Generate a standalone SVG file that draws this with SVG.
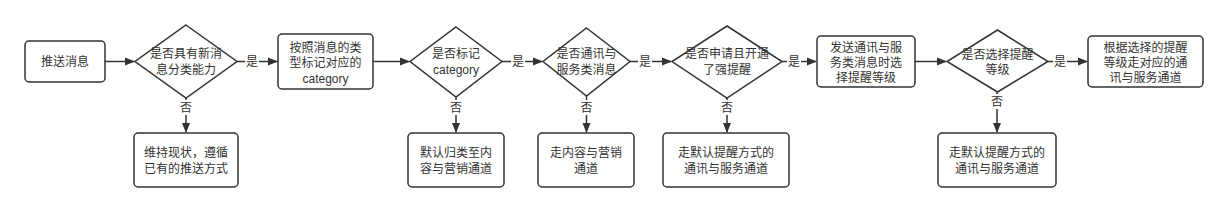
<svg xmlns="http://www.w3.org/2000/svg" width="1227" height="212" viewBox="0 0 1227 212">
<style>
.n{fill:#fff;stroke:#333;stroke-width:1.5}
.t{font-family:"Liberation Sans","Noto Sans CJK SC",sans-serif;font-size:12px;fill:#333;text-anchor:middle;dominant-baseline:central}
.c{stroke:#333;stroke-width:1.5;fill:none}
.lb{fill:#fff}
</style>
<defs>
<marker id="a" viewBox="0 0 10 10" refX="9" refY="5" markerWidth="10" markerHeight="10" markerUnits="userSpaceOnUse" orient="auto">
<path d="M0,1 L10,5 L0,9 Z" fill="#333"/>
</marker>
</defs>
<rect width="1227" height="212" fill="#fff"/>
<g id="connectors">
<path class="c" d="M105,61.5H134" marker-end="url(#a)"/>
<path class="c" d="M237,61.5H277" marker-end="url(#a)"/>
<path class="c" d="M373,61.5H409" marker-end="url(#a)"/>
<path class="c" d="M502,61.5H542" marker-end="url(#a)"/>
<path class="c" d="M630,61.5H671" marker-end="url(#a)"/>
<path class="c" d="M782,61.5H816" marker-end="url(#a)"/>
<path class="c" d="M915,61.5H946" marker-end="url(#a)"/>
<path class="c" d="M1048,61.5H1087" marker-end="url(#a)"/>
<path class="c" d="M186,98V132" marker-end="url(#a)"/>
<path class="c" d="M456,97V132" marker-end="url(#a)"/>
<path class="c" d="M586.5,96V132" marker-end="url(#a)"/>
<path class="c" d="M727,98V132" marker-end="url(#a)"/>
<path class="c" d="M997,92V132" marker-end="url(#a)"/>
<rect class="lb" x="245" y="54" width="14" height="15"/>
<text class="t" x="252" y="61.5">是</text>
<rect class="lb" x="511" y="54" width="14" height="15"/>
<text class="t" x="518" y="61.5">是</text>
<rect class="lb" x="638" y="54" width="14" height="15"/>
<text class="t" x="645" y="61.5">是</text>
<rect class="lb" x="787" y="54" width="14" height="15"/>
<text class="t" x="794" y="61.5">是</text>
<rect class="lb" x="1053" y="54" width="14" height="15"/>
<text class="t" x="1060" y="61.5">是</text>
<rect class="lb" x="179" y="100" width="14" height="15"/>
<text class="t" x="186" y="107.5">否</text>
<rect class="lb" x="449" y="100" width="14" height="15"/>
<text class="t" x="456" y="107.5">否</text>
<rect class="lb" x="579.5" y="100" width="14" height="15"/>
<text class="t" x="586.5" y="107.5">否</text>
<rect class="lb" x="720" y="100" width="14" height="15"/>
<text class="t" x="727" y="107.5">否</text>
<rect class="lb" x="990" y="94" width="14" height="15"/>
<text class="t" x="997" y="101.5">否</text>
</g>
<g id="n1"><rect class="n" x="25" y="41" width="80" height="41" rx="4"/><text class="t" x="65" y="61.5">推送消息</text></g>
<g id="d1"><path class="n" d="M186,25L237,61.5L186,98L135,61.5Z"/><text class="t" x="186" y="54">是否具有新消</text><text class="t" x="186" y="70">息分类能力</text></g>
<g id="n2"><rect class="n" x="278" y="34" width="95" height="55" rx="4"/><text class="t" x="325.5" y="48">按照消息的类</text><text class="t" x="325.5" y="63">型标记对应的</text><text class="t" x="325.5" y="79">category</text></g>
<g id="d2"><path class="n" d="M456,27L502,61.5L456,97L410,61.5Z"/><text class="t" x="456" y="54">是否标记</text><text class="t" x="456" y="70">category</text></g>
<g id="d3"><path class="n" d="M586.5,28L630,61.5L586.5,96L543,61.5Z"/><text class="t" x="586.5" y="54">是否通讯与</text><text class="t" x="586.5" y="70">服务类消息</text></g>
<g id="d4"><path class="n" d="M727,26L782,61.5L727,98L672,61.5Z"/><text class="t" x="727" y="54">是否申请且开通</text><text class="t" x="727" y="70">了强提醒</text></g>
<g id="n3"><rect class="n" x="817" y="36" width="98" height="51" rx="4"/><text class="t" x="866" y="48">发送通讯与服</text><text class="t" x="866" y="63">务类消息时选</text><text class="t" x="866" y="78">择提醒等级</text></g>
<g id="d5"><path class="n" d="M997.5,30L1048,61.5L997.5,92L947,61.5Z"/><text class="t" x="997.5" y="55">是否选择提醒</text><text class="t" x="997.5" y="70">等级</text></g>
<g id="n4"><rect class="n" x="1088" y="36" width="115" height="51" rx="4"/><text class="t" x="1145.5" y="48">根据选择的提醒</text><text class="t" x="1145.5" y="63">等级走对应的通</text><text class="t" x="1145.5" y="78">讯与服务通道</text></g>
<g id="b1"><rect class="n" x="134" y="133" width="104" height="54" rx="4"/><text class="t" x="186" y="153">维持现状，遵循</text><text class="t" x="186" y="169">已有的推送方式</text></g>
<g id="b2"><rect class="n" x="408" y="133" width="96" height="54" rx="4"/><text class="t" x="456" y="153">默认归类至内</text><text class="t" x="456" y="169">容与营销通道</text></g>
<g id="b3"><rect class="n" x="538" y="133" width="96" height="54" rx="4"/><text class="t" x="586" y="153">走内容与营销</text><text class="t" x="586" y="169">通道</text></g>
<g id="b4"><rect class="n" x="663" y="133" width="126" height="54" rx="4"/><text class="t" x="726" y="153">走默认提醒方式的</text><text class="t" x="726" y="169">通讯与服务通道</text></g>
<g id="b5"><rect class="n" x="938" y="133" width="118" height="54" rx="4"/><text class="t" x="997" y="153">走默认提醒方式的</text><text class="t" x="997" y="169">通讯与服务通道</text></g>
</svg>
